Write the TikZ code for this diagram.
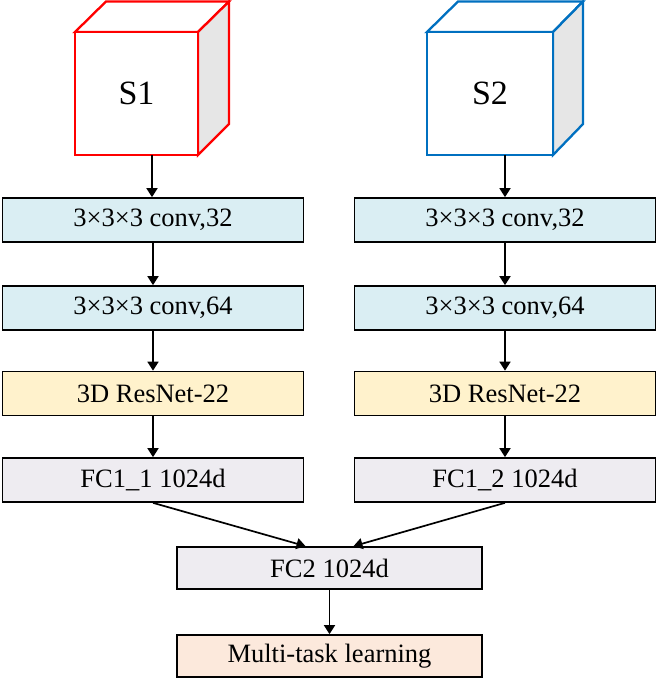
\documentclass[tikz,border=0pt]{standalone}
\usepackage{fontspec}
\setmainfont{Liberation Serif}
\usetikzlibrary{arrows.meta}
\definecolor{convfill}{HTML}{DAEEF3}
\definecolor{resfill}{HTML}{FFF2CC}
\definecolor{fcfill}{HTML}{EEECF1}
\definecolor{mtfill}{HTML}{FCE9DC}
\definecolor{sidegray}{HTML}{E6E6E6}
\definecolor{cubered}{HTML}{FF0000}
\definecolor{cubeblue}{HTML}{0070C0}
\tikzset{
  layer/.style={draw=black, line width=1.7pt, minimum width=301pt, minimum height=44pt, inner sep=0pt, font=\fontsize{26.5}{30}\selectfont},
  conv/.style={layer, fill=convfill},
  res/.style={layer, fill=resfill},
  fc/.style={layer, fill=fcfill},
  mt/.style={layer, fill=mtfill, minimum width=305pt, minimum height=42pt},
  link/.style={line width=1.7pt, -{Triangle[length=9pt,width=11pt]}},
  cubeline/.style={line width=2.3pt, line join=miter}
}
\begin{document}
\begin{tikzpicture}[x=1pt,y=-1pt]
\useasboundingbox (0,0) rectangle (657,679);
% cube S1
\draw[cubeline, draw=cubered, fill=white] (75,32) -- (106,1.5) -- (229,1.5) -- (198,32) -- cycle;
\draw[cubeline, draw=cubered, fill=sidegray] (198,32) -- (229,1.5) -- (229,124) -- (198,155) -- cycle;
\node[cubeline, draw=cubered, fill=white, minimum width=123pt, minimum height=123pt, inner sep=0pt, font=\fontsize{34}{40}\selectfont] (s1) at (136.5,93.5) {S1};
\coordinate (s1b) at (152,155);
% cube S2
\draw[cubeline, draw=cubeblue, fill=white] (427,32) -- (458,1.5) -- (583,1.5) -- (553,32) -- cycle;
\draw[cubeline, draw=cubeblue, fill=sidegray] (553,32) -- (583,1.5) -- (583,124) -- (553,155) -- cycle;
\node[cubeline, draw=cubeblue, fill=white, minimum width=126pt, minimum height=123pt, inner sep=0pt, font=\fontsize{34}{40}\selectfont] (s2) at (490,93.5) {S2};
\coordinate (s2b) at (505,155);
% left column
\node[conv] (l1) at (153,220) {3×3×3 conv,32};
\node[conv] (l2) at (153,308) {3×3×3 conv,64};
\node[res] (l3) at (153,393.5) {3D ResNet-22};
\node[fc] (l4) at (153,480) {FC1\_1 1024d};
% right column
\node[conv] (r1) at (505,220) {3×3×3 conv,32};
\node[conv] (r2) at (505,308) {3×3×3 conv,64};
\node[res] (r3) at (505,393.5) {3D ResNet-22};
\node[fc] (r4) at (505,480) {FC1\_2 1024d};
% merge
\node[fc, minimum width=305pt, minimum height=42pt] (fc2) at (329.5,568) {FC2 1024d};
\node[mt] (mt) at (329.5,656) {Multi-task learning};
% links
\draw[link] (s1b) -- (l1.north -| s1b);
\draw[link] (l1) -- (l2);
\draw[link] (l2) -- (l3);
\draw[link] (l3) -- (l4);
\draw[link] (s2b) -- (r1.north -| s2b);
\draw[link] (r1) -- (r2);
\draw[link] (r2) -- (r3);
\draw[link] (r3) -- (r4);
\draw[link] (l4.south) -- ([xshift=-24pt]fc2.north);
\draw[link] (r4.south) -- ([xshift=24pt]fc2.north);
\draw[link] (fc2) -- (mt);
\end{tikzpicture}
\end{document}
